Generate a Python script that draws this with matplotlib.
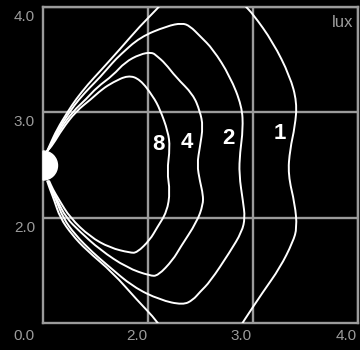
import matplotlib
matplotlib.use('Agg')
import matplotlib.pyplot as plt
from matplotlib.patches import Wedge, PathPatch
from matplotlib.path import Path
from matplotlib.transforms import ScaledTranslation

# ---- data (axis units) ----
x_ticks = [2, 3, 4]
x_tick_labels = ['2.0', '3.0', '4.0']
y_ticks = [2, 3, 4]
y_tick_labels = ['2.0', '3.0', '4.0']
origin_label = '0.0'
unit_label = 'lux'

level_labels = ['8', '4', '2', '1']
label_x = [2.095, 2.371, 2.762, 3.257]
label_y = [2.695, 2.714, 2.752, 2.800]

iso8_x = [1.038, 1.095, 1.181, 1.314, 1.457, 1.562, 1.667, 1.810, 1.924, 2.048, 2.114, 2.190, 2.210,
          2.181, 2.210, 2.181, 2.086, 2.019, 1.895, 1.829, 1.638, 1.448, 1.257, 1.152, 1.095, 1.057]
iso8_y = [2.629, 2.695, 2.838, 3.010, 3.124, 3.219, 3.286, 3.352, 3.314, 3.152, 3.029, 2.819, 2.667,
          2.438, 2.248, 2.057, 1.905, 1.790, 1.667, 1.667, 1.714, 1.819, 2.000, 2.171, 2.267, 2.352]

iso4_x = [1.038, 1.086, 1.162, 1.286, 1.410, 1.514, 1.667, 1.781, 1.924, 2.038, 2.086, 2.162, 2.267,
          2.429, 2.495, 2.524, 2.495, 2.467, 2.495, 2.524, 2.524, 2.467, 2.305, 2.238, 2.095, 2.019,
          1.800, 1.543, 1.352, 1.219, 1.133, 1.086, 1.048]
iso4_y = [2.629, 2.695, 2.838, 3.010, 3.124, 3.238, 3.352, 3.476, 3.552, 3.571, 3.533, 3.467, 3.333,
          3.171, 3.010, 2.867, 2.676, 2.505, 2.343, 2.219, 2.124, 1.962, 1.714, 1.600, 1.448, 1.448,
          1.524, 1.695, 1.867, 2.000, 2.171, 2.267, 2.352]

iso2_x = [1.038, 1.076, 1.148, 1.257, 1.343, 1.448, 1.543, 1.667, 1.733, 1.924, 2.181, 2.324, 2.400,
          2.495, 2.619, 2.781, 2.895, 2.905, 2.876, 2.867, 2.905, 2.924, 2.895, 2.781, 2.590, 2.495,
          2.429, 2.333, 2.114, 1.857, 1.610, 1.476, 1.305, 1.190, 1.124, 1.076, 1.048]
iso2_y = [2.629, 2.695, 2.838, 3.010, 3.124, 3.238, 3.333, 3.476, 3.543, 3.714, 3.819, 3.848, 3.819,
          3.724, 3.600, 3.343, 3.057, 2.838, 2.619, 2.410, 2.152, 2.000, 1.867, 1.676, 1.390, 1.295,
          1.219, 1.171, 1.219, 1.343, 1.552, 1.667, 1.838, 2.000, 2.171, 2.267, 2.352]

iso1_x = [1.038, 1.067, 1.133, 1.238, 1.314, 1.429, 1.543, 1.733, 1.924, 2.095, 2.210, 2.829, 2.924,
          3.000, 3.190, 3.352, 3.419, 3.400, 3.352, 3.333, 3.400, 3.419, 3.381, 3.257, 3.095, 2.905,
          2.829, 2.162, 2.095, 1.895, 1.667, 1.410, 1.276, 1.162, 1.105, 1.067, 1.038]
iso1_y = [2.629, 2.695, 2.838, 3.010, 3.124, 3.267, 3.390, 3.600, 3.819, 3.990, 4.124, 4.124, 4.010,
          3.933, 3.667, 3.343, 3.095, 2.867, 2.648, 2.410, 2.124, 1.905, 1.771, 1.524, 1.295, 1.010,
          0.886, 0.886, 1.010, 1.219, 1.476, 1.695, 1.838, 2.000, 2.171, 2.267, 2.352]

source_x = 1.0
source_y = 2.495
source_r = 0.138

# ---- drawing ----
GRAY = '#9b9b9b'
FONT = 'Liberation Sans'
DPI = 100
fig = plt.figure(figsize=(3.6, 3.5), dpi=DPI, facecolor='black')
ax = fig.add_axes([43 / 360, 27 / 350, 315 / 360, 316 / 350])
ax.set_facecolor('black')
ax.set_xlim(1, 4)
ax.set_ylim(1, 4)

ax.set_xticks(x_ticks)
ax.set_yticks(y_ticks)
ax.tick_params(length=0, labelbottom=False, labelleft=False)
ax.grid(True, color=GRAY, linewidth=1.7)
ax.set_axisbelow(True)
for s in ax.spines.values():
    s.set_color(GRAY)
    s.set_linewidth(1.7)


def px(dx, dy):
    return ScaledTranslation(dx / DPI, dy / DPI, fig.dpi_scale_trans)


for t, v in zip(x_tick_labels, x_ticks):
    ax.text(v, 0, t, transform=ax.get_xaxis_transform() + px(-1, -6),
            ha='right', va='top', color=GRAY, fontsize=11, family=FONT)
for t, v in zip(y_tick_labels, y_ticks):
    ax.text(0, v, t, transform=ax.get_yaxis_transform() + px(-8, -3),
            ha='right', va='top', color=GRAY, fontsize=11, family=FONT)
ax.text(0, 0, origin_label, transform=ax.transAxes + px(-8, -6),
        ha='right', va='top', color=GRAY, fontsize=11, family=FONT)


def smooth(xs, ys):
    pts = list(zip(xs, ys))
    mid = lambda a, b: ((a[0] + b[0]) / 2, (a[1] + b[1]) / 2)
    verts = [pts[0], mid(pts[0], pts[1])]
    codes = [Path.MOVETO, Path.LINETO]
    for i in range(1, len(pts) - 1):
        verts += [pts[i], mid(pts[i], pts[i + 1])]
        codes += [Path.CURVE3, Path.CURVE3]
    verts.append(pts[-1])
    codes.append(Path.LINETO)
    return Path(verts, codes)


for xs, ys in [(iso8_x, iso8_y), (iso4_x, iso4_y), (iso2_x, iso2_y), (iso1_x, iso1_y)]:
    ax.add_patch(PathPatch(smooth(xs, ys), facecolor='none', edgecolor='white',
                           linewidth=1.4, zorder=3))

for t, lx, ly in zip(level_labels, label_x, label_y):
    ax.text(lx, ly, t, color='white', fontsize=16, fontweight='bold',
            family=FONT, ha='center', va='center', zorder=4)

ax.add_patch(Wedge((source_x, source_y), source_r, -90, 90, color='white',
                   zorder=5, clip_on=False))

ax.text(0.985, 0.975, unit_label, transform=ax.transAxes, ha='right', va='top',
        color=GRAY, fontsize=12, family=FONT)

fig.savefig('out.png', dpi=DPI, facecolor='black')
